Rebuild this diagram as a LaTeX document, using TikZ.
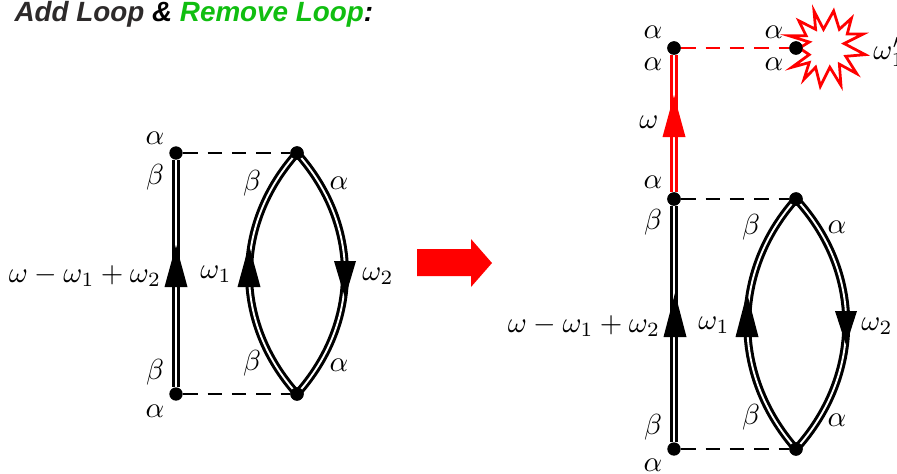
\documentclass[tikz,border=0pt]{standalone}
\usepackage{fontspec}
\newfontfamily\titlefont{Liberation Sans}
\definecolor{loopgreen}{RGB}{16,190,16}
\definecolor{titlegray}{RGB}{45,42,42}
\tikzset{
  vertex/.style={circle,fill=black,inner sep=0pt,minimum size=4.6pt},
  dbl/.style={line width=1.05pt,double=white,double distance=.65pt},
  dbr/.style={dbl,draw=red},
  dsh/.style={line width=1pt,dash pattern=on 5pt off 3.4pt},
  lbl/.style={inner sep=0pt,text=black},
  tip/.style={fill=black,draw=none},
}
\begin{document}
\begin{tikzpicture}[x=.345pt,y=-.345pt]
\useasboundingbox (0,0) rectangle (897,473);
% title
\node[anchor=base west,inner sep=0pt,font=\titlefont\bfseries\itshape\fontsize{9.6pt}{11pt}\selectfont] (title) at (14,21)
  {\textcolor{titlegray}{Add Loop} \textcolor{black}{\&} \textcolor{loopgreen}{Remove Loop}\textcolor{black}{:}};
% left diagram
\node[vertex] (A) at (176,153) {};
\node[vertex] (B) at (297,153) {};
\node[vertex] (C) at (176,394) {};
\node[vertex] (D) at (297,394) {};
\draw[dbl] (A) -- (C);
\draw[dsh] (A) -- (B);
\draw[dsh] (C) -- (D);
\draw[dbl] (B.center) .. controls (233,225) and (233,322) .. (D.center);
\draw[dbl] (B.center) .. controls (361,225) and (361,322) .. (D.center);
\node[vertex] at (B) {};
\node[vertex] at (D) {};
\fill[tip] (176,245) -- (187.5,287) -- (164.5,287) -- cycle;
\fill[tip] (249,245) -- (260.5,287) -- (237.5,287) -- cycle;
\fill[tip] (345,298) -- (356,261) -- (334,261) -- cycle;
\node[lbl] (l1) at (155,138) {$\alpha$};
\node[lbl] (l2) at (155,177) {$\beta$};
\node[lbl] (l3) at (252,183) {$\beta$};
\node[lbl] (l4) at (339,183) {$\alpha$};
\node[lbl] (l5) at (85,276) {$\omega-\omega_1+\omega_2$};
\node[lbl] (l6) at (216,274) {$\omega_1$};
\node[lbl] (l7) at (378,276) {$\omega_2$};
\node[lbl] (l8) at (155,372) {$\beta$};
\node[lbl] (l9) at (252,363) {$\beta$};
\node[lbl] (l10) at (339,365) {$\alpha$};
\node[lbl] (l11) at (155,411) {$\alpha$};
% big arrow
\fill[red] (417,249) -- (471,249) -- (471,239) -- (492,263) -- (471,287) -- (471,276) -- (417,276) -- cycle;
% right diagram
\node[vertex] (P) at (674,48) {};
\node[vertex] (Q) at (796,48) {};
\node[vertex] (E) at (674,199) {};
\node[vertex] (F) at (796,199) {};
\node[vertex] (G) at (674,449) {};
\node[vertex] (H) at (796,449) {};
\draw[dbr] (P) -- (E);
\draw[dsh,red] (P) -- (Q);
\draw[dsh] (E) -- (F);
\draw[dsh] (G) -- (H);
\draw[dbl] (E) -- (G);
\draw[dbl] (F.center) .. controls (731,272) and (731,375) .. (H.center);
\draw[dbl] (F.center) .. controls (863,272) and (863,375) .. (H.center);
\node[vertex] at (F) {};
\node[vertex] at (H) {};
\node[vertex] at (E) {};
\node[vertex] at (P) {};
\fill[red] (674,95) -- (685.5,137) -- (662.5,137) -- cycle;
\fill[tip] (675,293) -- (686.5,337) -- (663.5,337) -- cycle;
\fill[tip] (747,293) -- (758.5,337) -- (735.5,337) -- cycle;
\fill[tip] (846,345) -- (857,311) -- (835,311) -- cycle;
% burst
\begin{scope}[shift={(827,48)},scale=.95,shift={(-827,-48)}]
\draw[red,line width=.95pt,line join=miter,miter limit=10]
  (813.3,9) -- (823.3,28.3) -- (834,9) -- (840,28.3) -- (852.7,16.7) -- (848.3,33.3)
  -- (865,33.3) -- (845,43.3) -- (867.3,55) -- (846.7,56.7) -- (858.3,75) -- (840,65)
  -- (841.7,87.3) -- (830,68.3) -- (820,88.3) -- (815,68.3) -- (802.7,81) -- (808.3,63.3)
  -- (790,68.3) -- (808.3,55) -- (798,48) -- (808.3,41.7) -- (786.7,35) -- (805,35)
  -- (797.3,19.3) -- (815,28.3) -- cycle;
\end{scope}
\node[vertex] at (Q) {};
\node[lbl] (r1) at (653,32) {$\alpha$};
\node[lbl] (r2) at (653,64) {$\alpha$};
\node[lbl] (r3) at (774,32) {$\alpha$};
\node[lbl] (r4) at (774,64) {$\alpha$};
\node[lbl] (r5) at (889,52) {$\omega_1'$};
\node[lbl] (r6) at (649,122) {$\omega$};
\node[lbl] (r7) at (653,182) {$\alpha$};
\node[lbl] (r8) at (653,222) {$\beta$};
\node[lbl] (r9) at (751,227) {$\beta$};
\node[lbl] (r10) at (837,227) {$\alpha$};
\node[lbl] (r11) at (584,326) {$\omega-\omega_1+\omega_2$};
\node[lbl] (r12) at (714,325) {$\omega_1$};
\node[lbl] (r13) at (877,326) {$\omega_2$};
\node[lbl] (r14) at (653,427) {$\beta$};
\node[lbl] (r15) at (751,417) {$\beta$};
\node[lbl] (r16) at (837,420) {$\alpha$};
\node[lbl] (r17) at (653,465) {$\alpha$};
\end{tikzpicture}
\end{document}
